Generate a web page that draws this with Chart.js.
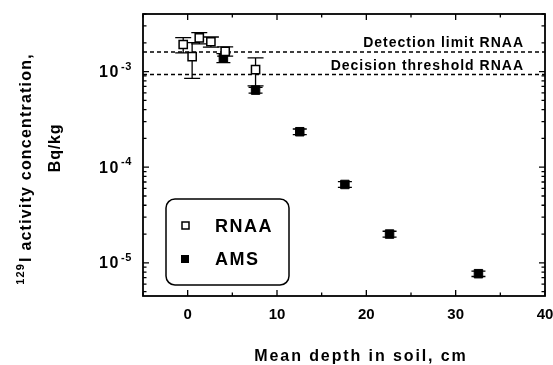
<!DOCTYPE html>
<html>
<head>
<meta charset="utf-8">
<script src="https://cdn.jsdelivr.net/npm/chart.js@4.4.1/dist/chart.umd.min.js"></script>
<style>
  html, body { margin: 0; padding: 0; background: #fff; }
</style>
</head>
<body>
<canvas id="chart" width="553" height="365"></canvas>
<script>
// RNAA (open squares)
const rnaaDepth = [-0.5, 0.5, 1.3, 2.6, 4.2, 7.6];
const rnaaActivity = [1.92e-3, 1.43e-3, 2.25e-3, 2.05e-3, 1.63e-3, 1.05e-3];
const rnaaError = [0.35e-3, 0.58e-3, 0.3e-3, 0.25e-3, 0.18e-3, 0.34e-3];

// AMS (filled squares)
const amsDepth = [4.0, 7.6, 12.55, 17.6, 22.6, 32.55];
const amsActivity = [1.39e-3, 6.4e-4, 2.35e-4, 6.6e-5, 2.0e-5, 7.7e-6];
const amsError = [0.15e-3, 0.45e-4, 0.16e-4, 0.45e-5, 0.14e-5, 0.5e-6];

// RNAA limits
const detectionLimit = 1.6e-3;
const decisionThreshold = 9.3e-4;

// axes
const xRange = [-5, 40];
const yRange = [4.5e-6, 4e-3];
const xTickValues = [0, 10, 20, 30, 40];
const yTickExponents = [-3, -4, -5];

const FONT = '"Liberation Sans", Arial, sans-serif';

const toPoints = (xs, ys) => xs.map((x, i) => ({ x, y: ys[i] }));

const errorBars = {
  id: 'errorBars',
  beforeDatasetsDraw(chart) {
    const { ctx, chartArea, scales: { x, y } } = chart;
    ctx.save();
    ctx.beginPath();
    ctx.rect(chartArea.left, chartArea.top, chartArea.right - chartArea.left, chartArea.bottom - chartArea.top);
    ctx.clip();
    ctx.strokeStyle = '#000';
    ctx.lineWidth = 1.3;
    const draw = (xs, ys, es, cap) => {
      xs.forEach((d, i) => {
        const px = x.getPixelForValue(d);
        const top = y.getPixelForValue(ys[i] + es[i]);
        const bot = y.getPixelForValue(ys[i] - es[i]);
        ctx.beginPath();
        ctx.moveTo(px, top); ctx.lineTo(px, bot);
        ctx.moveTo(px - cap, top); ctx.lineTo(px + cap, top);
        ctx.moveTo(px - cap, bot); ctx.lineTo(px + cap, bot);
        ctx.stroke();
      });
    };
    draw(rnaaDepth, rnaaActivity, rnaaError, 8);
    draw(amsDepth, amsActivity, amsError, 7);
    ctx.restore();
  }
};

const frame = {
  id: 'frame',
  afterDraw(chart) {
    const { ctx, chartArea: a, scales: { x, y } } = chart;
    ctx.save();
    ctx.strokeStyle = '#000';
    ctx.fillStyle = '#000';

    // frame
    ctx.lineWidth = 1.8;
    ctx.strokeRect(a.left, a.top, a.right - a.left, a.bottom - a.top);

    // inward ticks
    ctx.lineWidth = 1.3;
    ctx.beginPath();
    for (let v = xRange[0]; v <= xRange[1]; v += 5) {
      const px = x.getPixelForValue(v);
      const len = v % 10 === 0 ? 6 : 3.5;
      ctx.moveTo(px, a.bottom); ctx.lineTo(px, a.bottom - len);
      ctx.moveTo(px, a.top); ctx.lineTo(px, a.top + len);
    }
    for (let e = -6; e <= -2; e++) {
      for (let m = 1; m <= 9; m++) {
        const v = m * Math.pow(10, e);
        if (v < yRange[0] || v > yRange[1]) continue;
        const py = y.getPixelForValue(v);
        const len = m === 1 ? 6 : 3.5;
        ctx.moveTo(a.left, py); ctx.lineTo(a.left + len, py);
        ctx.moveTo(a.right, py); ctx.lineTo(a.right - len, py);
      }
    }
    ctx.stroke();

    // y tick labels with superscripts
    ctx.textBaseline = 'middle';
    ctx.textAlign = 'left';
    yTickExponents.forEach(e => {
      const py = y.getPixelForValue(Math.pow(10, e));
      ctx.letterSpacing = '0.5px';
      ctx.font = 'bold 11px ' + FONT;
      ctx.fillText(String(e), 121, py - 5);
      ctx.letterSpacing = '1.5px';
      ctx.font = 'bold 16px ' + FONT;
      ctx.fillText('10', 99, py + 1);
    });

    // limit labels
    ctx.font = 'bold 14px ' + FONT;
    ctx.letterSpacing = '1px';
    ctx.textAlign = 'left';
    ctx.textBaseline = 'alphabetic';
    const labelRight = a.right - 22;
    [['Detection limit RNAA', detectionLimit], ['Decision threshold RNAA', decisionThreshold]].forEach(([t, v]) => {
      const w = ctx.measureText(t).width - 1;
      ctx.fillText(t, labelRight - w, y.getPixelForValue(v) - 5);
    });

    // x title
    ctx.font = 'bold 16px ' + FONT;
    ctx.letterSpacing = '1.9px';
    ctx.textAlign = 'center';
    ctx.textBaseline = 'middle';
    ctx.fillText('Mean depth in soil, cm', 361, 357);

    // y title (rotated)
    ctx.save();
    ctx.translate(26, 169);
    ctx.rotate(-Math.PI / 2);
    ctx.letterSpacing = '1.2px';
    ctx.font = 'bold 16px ' + FONT;
    const main = 'I activity concentration,';
    const mainW = ctx.measureText(main).width;
    ctx.font = 'bold 11px ' + FONT;
    const supW = ctx.measureText('129').width;
    const total = mainW + supW + 1;
    ctx.textAlign = 'left';
    ctx.fillText('129', -total / 2, -5);
    ctx.font = 'bold 16px ' + FONT;
    ctx.fillText(main, -total / 2 + supW + 1, 1);
    ctx.restore();

    ctx.save();
    ctx.translate(55, 148);
    ctx.rotate(-Math.PI / 2);
    ctx.letterSpacing = '0.8px';
    ctx.font = 'bold 16px ' + FONT;
    ctx.textAlign = 'center';
    ctx.fillText('Bq/kg', 0, 1);
    ctx.restore();

    // legend
    ctx.lineWidth = 1.5;
    ctx.beginPath();
    ctx.roundRect(166, 199, 123, 86, 9);
    ctx.stroke();
    ctx.fillStyle = '#fff';
    ctx.fillRect(182, 222, 7, 7);
    ctx.strokeRect(182, 222, 7, 7);
    ctx.fillStyle = '#000';
    ctx.fillRect(181, 255, 8, 8);
    ctx.font = 'bold 18px ' + FONT;
    ctx.letterSpacing = '1.5px';
    ctx.textAlign = 'left';
    ctx.textBaseline = 'middle';
    ctx.fillText('RNAA', 215, 227);
    ctx.fillText('AMS', 215, 260);

    ctx.restore();
  }
};

new Chart(document.getElementById('chart'), {
  type: 'scatter',
  data: {
    datasets: [
      {
        label: 'RNAA',
        data: toPoints(rnaaDepth, rnaaActivity),
        pointStyle: 'rect',
        pointRadius: 5.8,
        backgroundColor: '#fff',
        borderColor: '#000',
        borderWidth: 1.5,
      },
      {
        label: 'AMS',
        data: toPoints(amsDepth, amsActivity),
        pointStyle: 'rect',
        pointRadius: 6,
        backgroundColor: '#000',
        borderColor: '#000',
        borderWidth: 1,
      },
      {
        type: 'line',
        label: 'Detection limit RNAA',
        data: toPoints(xRange, [detectionLimit, detectionLimit]),
        borderColor: '#000',
        borderWidth: 1.5,
        borderDash: [4, 3],
        pointRadius: 0,
      },
      {
        type: 'line',
        label: 'Decision threshold RNAA',
        data: toPoints(xRange, [decisionThreshold, decisionThreshold]),
        borderColor: '#000',
        borderWidth: 1.5,
        borderDash: [4, 3],
        pointRadius: 0,
      },
    ],
  },
  options: {
    responsive: false,
    animation: false,
    layout: { padding: { top: 14, right: 8, left: 0, bottom: 0 } },
    plugins: { legend: { display: false }, tooltip: { enabled: false } },
    scales: {
      x: {
        type: 'linear',
        min: xRange[0],
        max: xRange[1],
        grid: { display: false, drawTicks: false },
        border: { display: false },
        afterBuildTicks: s => { s.ticks = xTickValues.map(v => ({ value: v })); },
        afterFit: s => { s.height = 69; s.paddingLeft = 0; s.paddingRight = 0; },
        ticks: {
          color: '#000',
          padding: 10,
          maxRotation: 0,
          font: { family: FONT, size: 15, weight: 'bold' },
        },
      },
      y: {
        type: 'logarithmic',
        min: yRange[0],
        max: yRange[1],
        grid: { display: false, drawTicks: false },
        border: { display: false },
        ticks: { display: false },
        afterFit: s => { s.width = 143; },
      },
    },
  },
  plugins: [errorBars, frame],
});
</script>
</body>
</html>
